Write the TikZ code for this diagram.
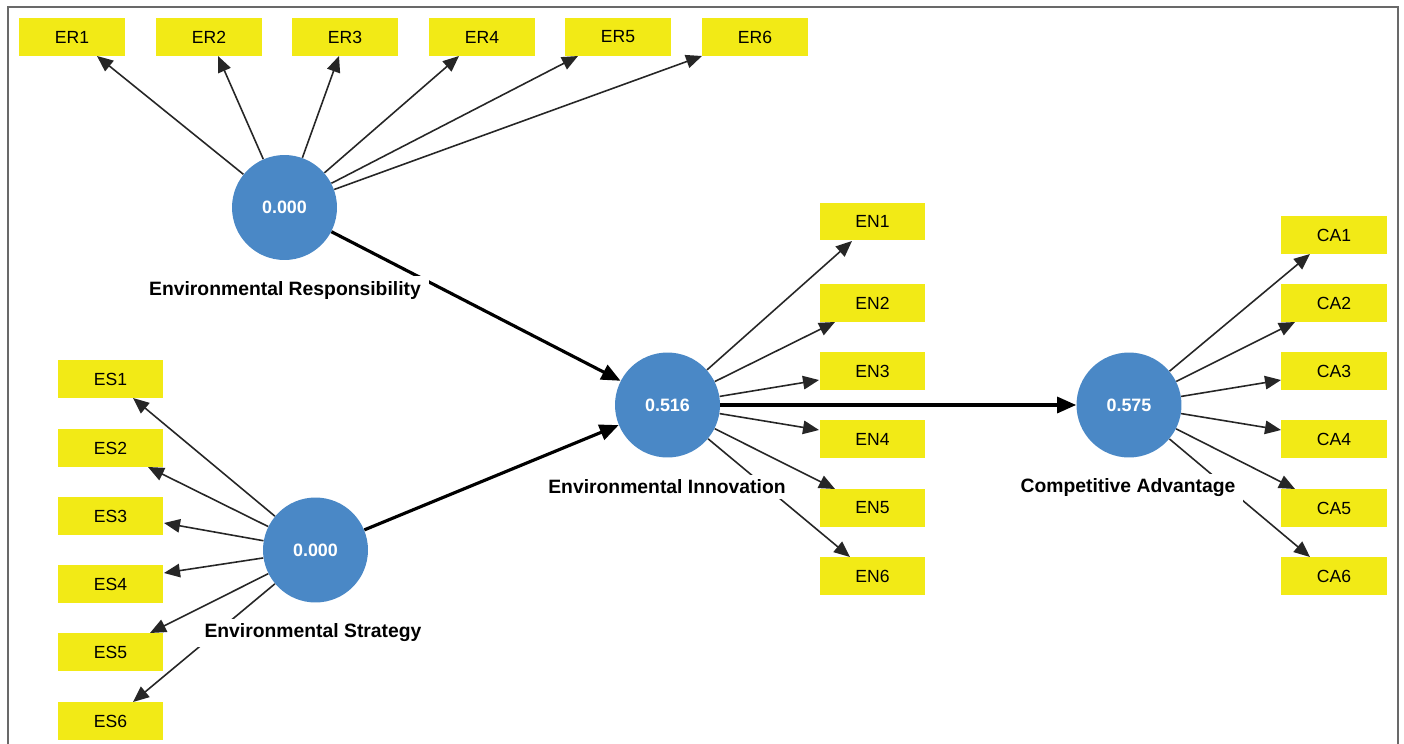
\documentclass[tikz,border=0pt]{standalone}
\usepackage{fontspec}
\setmainfont{Liberation Sans}
\usetikzlibrary{arrows.meta}
\definecolor{boxyellow}{RGB}{242,234,22}
\definecolor{lvblue}{RGB}{74,136,198}
\definecolor{framegray}{RGB}{105,105,105}
\begin{document}
\begin{tikzpicture}[x=0.02cm,y=-0.02cm,
  ind/.style={rectangle,fill=boxyellow,minimum width=2.12cm,minimum height=0.76cm,inner sep=0pt,font=\fontsize{10}{12}\selectfont},
  lv/.style={circle,fill=lvblue,minimum size=2.1cm,inner sep=0pt,text=white,font=\fontsize{10.2}{12}\selectfont\bfseries},
  lvlabel/.style={fill=white,inner xsep=0.16cm,inner ysep=0.1cm,font=\fontsize{11}{13}\selectfont\bfseries},
  load/.style={draw=black!85,line width=0.9pt,-{Triangle[length=0.32cm,width=0.27cm]}},
  struct/.style={draw=black,line width=1.8pt,-{Triangle[length=0.38cm,width=0.32cm]}}]
\useasboundingbox (0,0) rectangle (1404,744);
\fill[white] (0,0) rectangle (1404,744);
\draw[framegray,line width=1.1pt] (8,744) -- (8,7) -- (1398,7) -- (1398,744);

% latent variables
\node[lv] (er) at (284.5,207.5) {0.000};
\node[lv] (es) at (315.5,550) {0.000};
\node[lv] (en) at (667.5,405) {0.516};
\node[lv] (ca) at (1129,405) {0.575};

% indicators
\foreach \i/\x in {1/72,2/209,3/345,4/482,5/618,6/755}
  \node[ind] (ER\i) at (\x,37) {ER\i};
\foreach \i/\y in {1/379,2/448,3/516,4/584,5/652,6/721}
  \node[ind] (ES\i) at (110.5,\y) {ES\i};
\foreach \i/\y in {1/221.5,2/303,3/371,4/439,5/508,6/576}
  \node[ind] (EN\i) at (872.5,\y) {EN\i};
\foreach \i/\y in {1/235,2/303,3/371,4/439,5/508,6/576}
  \node[ind] (CA\i) at (1334,\y) {CA\i};

% arrow tip points on the indicator boxes
\coordinate (ter1) at (97,56);   \coordinate (ter2) at (218,56);
\coordinate (ter3) at (339,56);  \coordinate (ter4) at (459,56);
\coordinate (ter5) at (578,56);  \coordinate (ter6) at (702,56);
\coordinate (tes1) at (133,398); \coordinate (tes2) at (148,467);
\coordinate (tes3) at (164,523); \coordinate (tes4) at (164,573);
\coordinate (tes5) at (150,633); \coordinate (tes6) at (133,702);
\coordinate (ten1) at (852,241); \coordinate (ten2) at (835,322);
\coordinate (ten3) at (819,380); \coordinate (ten4) at (819,430);
\coordinate (ten5) at (835,489); \coordinate (ten6) at (850,557);
\coordinate (tca1) at (1310,254); \coordinate (tca2) at (1295,322);
\coordinate (tca3) at (1281,380); \coordinate (tca4) at (1281,430);
\coordinate (tca5) at (1295,489); \coordinate (tca6) at (1310,557);

\foreach \i in {1,...,6}{
  \draw[load] (er) -- (ter\i);
  \draw[load] (es) -- (tes\i);
  \draw[load] (en) -- (ten\i);
  \draw[load] (ca) -- (tca\i);
}

% structural paths
\draw[struct] (er) -- (en);
\draw[struct] (es) -- (en);
\draw[struct] (en) -- (ca);

% labels
\node[lvlabel] (erl) at (285,290) {Environmental Responsibility};
\node[lvlabel] (esl) at (313,633) {Environmental Strategy};
\node[lvlabel] (enl) at (667,487) {Environmental Innovation};
\node[lvlabel] (cal) at (1128,488) {Competitive Advantage};
\end{tikzpicture}
\end{document}
